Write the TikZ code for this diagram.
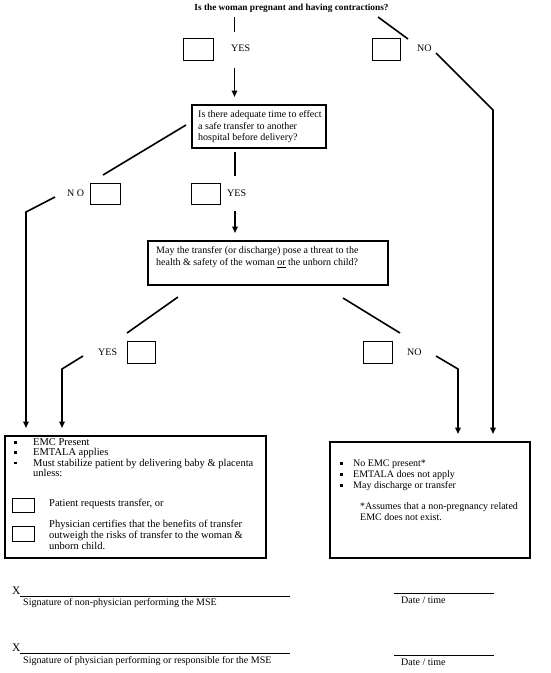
\documentclass[tikz,border=0pt]{standalone}
\usepackage{fontspec}
\setmainfont{Liberation Serif}
\usetikzlibrary{arrows.meta}
\newcommand\mybul[1]{\makebox[#1][l]{\rule[1.8pt]{2.7pt}{2.7pt}}}
\begin{document}
\begin{tikzpicture}[x=1pt,y=-1pt,
  ln/.style={line width=1.6pt},
  arr/.style={line width=1.6pt,-{Triangle[width=5.5pt,length=6.5pt]}},
  chk/.style={draw,line width=1.3pt,minimum width=#1,minimum height=22pt,inner sep=0,anchor=north west},
  chk/.default=29pt,
  frame/.style={draw,line width=1.6pt,inner sep=0,anchor=north west},
  txt/.style={font=\fontsize{10}{11.5}\selectfont,inner sep=0,align=left,anchor=north west},
  lbl/.style={font=\fontsize{10}{12}\selectfont,inner sep=0,anchor=west},
  sigline/.style={line width=0.9pt},
]
\useasboundingbox (0,0) rectangle (551,673);

% ---------- title ----------
\node[font=\bfseries\fontsize{9.3}{11}\selectfont,inner sep=0] (title) at (291.5,8) {Is the woman pregnant and having contractions?};

% ---------- first decision ----------
\node[chk=30pt] (y1box) at (183,38) {};
\node[lbl] (y1lbl) at (231,48.5) {YES};
\node[chk=28pt] (n1box) at (372,38) {};
\node[lbl] (n1lbl) at (417,48.5) {NO};

\coordinate (a1) at (234.5,17);  \coordinate (a2) at (234.5,32);
\coordinate (b1) at (234.5,68);  \coordinate (b2) at (234.5,97);
\draw[ln] (a1) -- (a2);
\draw[arr] (b1) -- (b2);

\coordinate (k1) at (378,17); \coordinate (k2) at (408,39);
\draw[ln] (k1) -- (k2);
\coordinate (l1) at (436,53); \coordinate (l2) at (493,110); \coordinate (l3) at (493,434);
\draw[arr] (l1) -- (l2) -- (l3);

% ---------- second decision ----------
\node[frame,minimum width=134pt,minimum height=43pt] (q2box) at (191,104) {};
\node[txt] (q2txt) at (198,110.4) {Is there adequate time to effect\\a safe transfer to another\\hospital before delivery?};

\coordinate (c1) at (186,125); \coordinate (c2) at (103,175);
\draw[ln] (c1) -- (c2);
\node[lbl] (n2lbl) at (67,193) {N O};
\node[chk=30pt,minimum height=21pt] (n2box) at (90,183) {};
\coordinate (d1) at (55,197); \coordinate (d2) at (26,212); \coordinate (d3) at (26,428);
\draw[arr] (d1) -- (d2) -- (d3);

\coordinate (e1) at (235,152); \coordinate (e2) at (235,176);
\draw[ln] (e1) -- (e2);
\node[chk=29pt,minimum height=21pt] (y2box) at (191,183) {};
\node[lbl] (y2lbl) at (227,193) {YES};
\coordinate (f1) at (235,211); \coordinate (f2) at (235,233);
\draw[arr] (f1) -- (f2);

% ---------- third decision ----------
\node[frame,minimum width=240pt,minimum height=44pt] (q3box) at (147,240) {};
\node[txt,font=\fontsize{10}{12}\selectfont] (q3txt) at (156,246.4) {May the transfer (or discharge) pose a threat to the\\health \& safety of the woman \underline{or} the unborn child?};

\coordinate (g1) at (178,297); \coordinate (g2) at (127,333);
\draw[ln] (g1) -- (g2);
\node[lbl] (y3lbl) at (98,352) {YES};
\node[chk=28pt] (y3box) at (127,341) {};
\coordinate (h1) at (83,356); \coordinate (h2) at (62,369); \coordinate (h3) at (62,428);
\draw[arr] (h1) -- (h2) -- (h3);

\coordinate (i1) at (343,298); \coordinate (i2) at (400,333);
\draw[ln] (i1) -- (i2);
\node[chk=29pt] (n3box) at (363,341) {};
\node[lbl] (n3lbl) at (407,352) {NO};
\coordinate (j1) at (436,356); \coordinate (j2) at (458,369); \coordinate (j3) at (458,434);
\draw[arr] (j1) -- (j2) -- (j3);

% ---------- EMC box ----------
\node[frame,minimum width=261pt,minimum height=122pt] (emcbox) at (4,435) {};
\node[txt,font=\fontsize{10.5}{10.4}\selectfont] (emctxt) at (14,438.3) {\mybul{19pt}EMC Present\\\mybul{19pt}EMTALA applies\\\mybul{19pt}Must stabilize patient by delivering baby \& placenta\\\hspace*{19pt}unless:};
\node[chk=22pt,minimum height=14pt,line width=1.2pt] (c1box) at (12,498) {};
\node[lbl,font=\fontsize{10.5}{12}\selectfont] (c1txt) at (49,504) {Patient requests transfer, or};
\node[chk=22pt,minimum height=15pt,line width=1.2pt] (c2box) at (12,526) {};
\node[txt,font=\fontsize{10.5}{11.3}\selectfont] (c2txt) at (49,519.6) {Physician certifies that the benefits of transfer\\outweigh the risks of transfer to the woman \&\\unborn child.};

% ---------- No EMC box ----------
\node[frame,minimum width=200pt,minimum height=116pt] (noemcbox) at (329,441) {};
\node[txt,font=\fontsize{10}{11}\selectfont] (noemctxt) at (340,459.6) {\mybul{13pt}No EMC present*\\\mybul{13pt}EMTALA does not apply\\\mybul{13pt}May discharge or transfer};
\node[txt,font=\fontsize{10}{11}\selectfont] (noemcnote) at (360,502.4) {*Assumes that a non-pregnancy related\\EMC does not exist.};

% ---------- signatures ----------
\node[lbl,font=\fontsize{11.5}{12}\selectfont] (x1) at (12,590.5) {X};
\coordinate (s1a) at (20,596.5); \coordinate (s1b) at (290,596.5);
\draw[sigline] (s1a) -- (s1b);
\node[lbl] (sig1) at (23,603.5) {Signature of non-physician performing the MSE};
\coordinate (t1a) at (394,593); \coordinate (t1b) at (494,593);
\draw[sigline] (t1a) -- (t1b);
\node[lbl] (date1) at (401,600.5) {Date / time};

\node[lbl,font=\fontsize{11.5}{12}\selectfont] (x2) at (12,647.5) {X};
\coordinate (s2a) at (20,653); \coordinate (s2b) at (290,653);
\draw[sigline] (s2a) -- (s2b);
\node[lbl] (sig2) at (23,661) {Signature of physician performing or responsible for the MSE};
\coordinate (t2a) at (394,655.5); \coordinate (t2b) at (494,655.5);
\draw[sigline] (t2a) -- (t2b);
\node[lbl] (date2) at (401,662.5) {Date / time};
\end{tikzpicture}
\end{document}
